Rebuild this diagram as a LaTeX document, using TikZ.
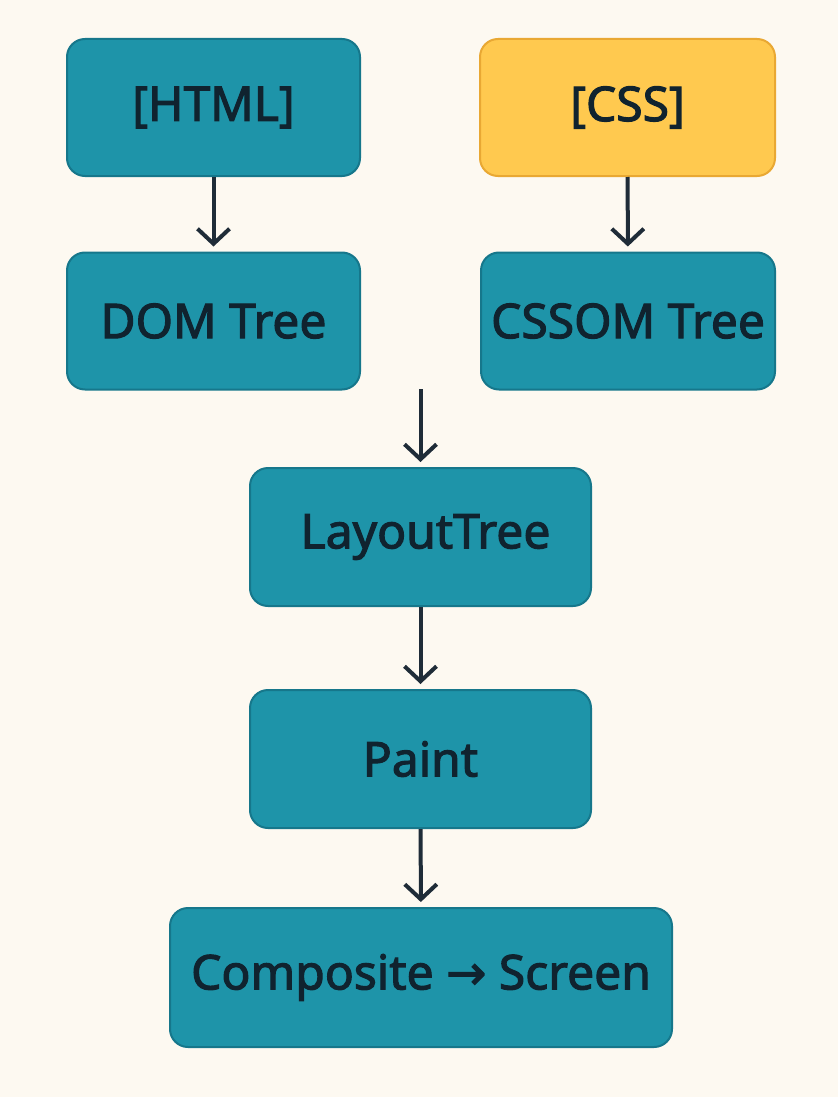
\documentclass[tikz,border=0pt]{standalone}
\usepackage{fontspec}
\setmainfont{Noto Sans}[FakeBold=2.2,AutoFakeBold=2.2]
\newfontfamily\arrowfont{DejaVu Sans}[FakeBold=2.2]
\usetikzlibrary{arrows.meta}
\definecolor{bgc}{HTML}{FDF9F1}
\definecolor{tealfill}{HTML}{1E94A9}
\definecolor{tealline}{HTML}{16778B}
\definecolor{yelfill}{HTML}{FFC94F}
\definecolor{yelline}{HTML}{E9A833}
\definecolor{txt}{HTML}{10232F}
\definecolor{arr}{HTML}{1F2C38}
\tikzset{
  x=1pt,y=-1pt,
  box/.style={draw=tealline, fill=tealfill, line width=2pt, rounded corners=18pt,
    minimum width=293pt, minimum height=137pt, text=txt, font=\fontsize{48}{54}\selectfont, inner sep=0pt},
  ybox/.style={box, draw=yelline, fill=yelfill},
  flow/.style={draw=arr, line width=4pt, -{Straight Barb[length=15pt,width=32pt,line width=4pt]}, shorten >=5pt}
}
\begin{document}
\begin{tikzpicture}
\useasboundingbox[fill=bgc] (0,0) rectangle (838,1097);
\node[box] (html) at (213.5,107.5) {[HTML]};
\node[ybox, minimum width=295pt] (css) at (627.5,107.5) {[CSS]};
\node[box] (dom) at (213.5,321) {DOM Tree};
\node[box, minimum width=294pt] (cssom) at (628,321) {CSSOM Tree};
\node[box, minimum width=341pt, minimum height=138pt] (layout) at (420.5,537) {\hspace*{10pt}\raisebox{-5pt}{LayoutTree}};
\node[box, minimum width=341pt, minimum height=138pt] (paint) at (420.5,759) {Paint};
\node[box, minimum width=502pt, minimum height=139pt] (comp) at (421,977.5) {Composite {\arrowfont →} Screen};
\coordinate (src) at (420.5,389);
\draw[flow] (html) -- (dom);
\draw[flow] (css) -- (cssom);
\draw[flow] (src) -- (layout);
\draw[flow] (layout) -- (paint);
\draw[flow] (paint) -- (comp);
\end{tikzpicture}
\end{document}
